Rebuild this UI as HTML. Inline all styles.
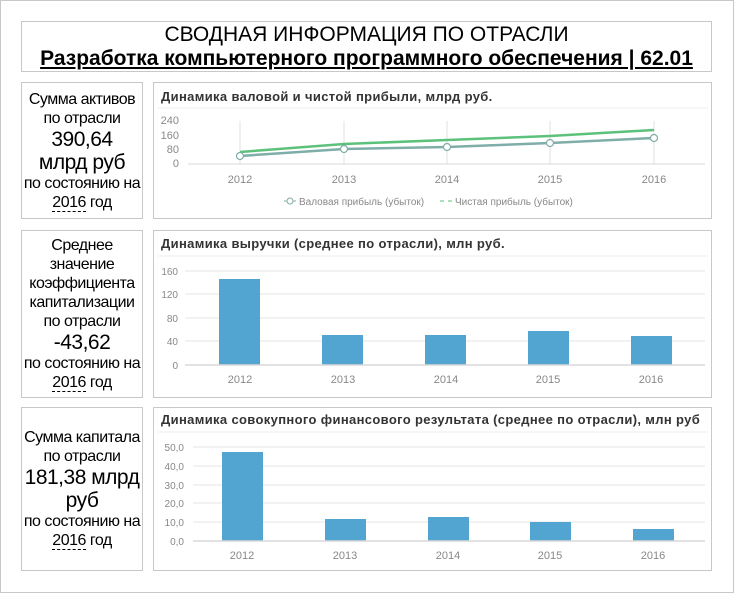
<!DOCTYPE html>
<html><head><meta charset="utf-8"><style>
body{margin:0;width:734px;height:593px;background:#fff;font-family:"Liberation Sans",sans-serif;overflow:hidden}
.frame{position:absolute;left:0;top:0;width:732px;height:591px;border:1px solid #c8c8c8}
.box{position:absolute;border:1px solid #c8c8c8;box-sizing:border-box;background:#fff}
.lt{text-align:center;color:#000;font-size:16px;line-height:19px;display:flex;flex-direction:column;justify-content:center;white-space:nowrap;letter-spacing:-0.5px}
.big{font-size:21px;line-height:23px}
.u{border-bottom:1px dashed #000}
svg text{font-family:"Liberation Sans",sans-serif}
</style></head><body>
<div class="frame"></div>
<div class="box" style="left:21px;top:21px;width:691px;height:51px;text-align:center">
<div style="font-size:21px;line-height:24px;margin-top:1px">СВОДНАЯ ИНФОРМАЦИЯ ПО ОТРАСЛИ</div>
<div style="font-size:21px;line-height:24px;font-weight:bold;text-decoration:underline">Разработка компьютерного программного обеспечения | 62.01</div>
</div>
<div class="box lt" style="left:21px;top:82px;width:122px;height:137px">
<div>Сумма активов</div><div>по отрасли</div><div class="big">390,64</div><div class="big">млрд руб</div><div>по состоянию на</div><div><span class="u">2016</span> год</div></div>
<div class="box lt" style="left:21px;top:230px;width:122px;height:168px">
<div>Среднее</div><div>значение</div><div>коэффициента</div><div>капитализации</div><div>по отрасли</div><div class="big">-43,62</div><div>по состоянию на</div><div><span class="u">2016</span> год</div></div>
<div class="box lt" style="left:21px;top:407px;width:122px;height:164px">
<div>Сумма капитала</div><div>по отрасли</div><div class="big">181,38 млрд</div><div class="big">руб</div><div>по состоянию на</div><div><span class="u">2016</span> год</div></div>

<div class="box" style="left:153px;top:82px;width:559px;height:137px"></div>
<div class="box" style="left:153px;top:230px;width:559px;height:168px"></div>
<div class="box" style="left:153px;top:407px;width:559px;height:164px"></div>

<svg style="position:absolute;left:0;top:0" width="734" height="593">
<g font-size="13" font-weight="bold" fill="#333" letter-spacing="0.35">
<text x="161" y="101">Динамика валовой и чистой прибыли, млрд руб.</text>
<text x="161" y="248">Динамика выручки (среднее по отрасли), млн руб.</text>
<text x="161" y="424">Динамика совокупного финансового результата (среднее по отрасли), млн руб</text>
</g>
<g stroke="#eee"><line x1="158" y1="108" x2="708" y2="108"/><line x1="158" y1="256" x2="708" y2="256"/><line x1="158" y1="432" x2="708" y2="432"/></g>
<!-- chart1 -->
<g stroke="#e0e0e0"><line x1="240" y1="121" x2="240" y2="164"/><line x1="344" y1="121" x2="344" y2="164"/><line x1="447" y1="121" x2="447" y2="164"/><line x1="550" y1="121" x2="550" y2="164"/><line x1="654" y1="121" x2="654" y2="164"/></g>
<line x1="188" y1="164" x2="705" y2="164" stroke="#d9d9d9"/>
<g font-size="11" fill="#888" text-anchor="end"><text x="179" y="124">240</text><text x="179" y="139">160</text><text x="179" y="153">80</text><text x="179" y="167">0</text></g>
<polyline points="240,152 344,144 447,140 550,136 654,130" fill="none" stroke="#5cc17a" stroke-width="2.5"/>
<polyline points="240,156 344,149 447,147 550,143 654,138" fill="none" stroke="#7fada8" stroke-width="2.5"/>
<g fill="#fff" stroke="#7fada8" stroke-width="1.2"><circle cx="240" cy="156" r="3.5"/><circle cx="344" cy="149" r="3.5"/><circle cx="447" cy="147" r="3.5"/><circle cx="550" cy="143" r="3.5"/><circle cx="654" cy="138" r="3.5"/></g>
<g font-size="11" fill="#888" text-anchor="middle"><text x="240" y="183">2012</text><text x="344" y="183">2013</text><text x="447" y="183">2014</text><text x="550" y="183">2015</text><text x="654" y="183">2016</text></g>
<line x1="284" y1="201" x2="296" y2="201" stroke="#7fada8"/><circle cx="290" cy="201" r="3" fill="#fff" stroke="#7fada8"/>
<text x="299" y="205" font-size="10" fill="#888">Валовая прибыль (убыток)</text>
<g stroke="#5cc17a"><line x1="440" y1="201" x2="444" y2="201"/><line x1="448" y1="201" x2="452" y2="201"/></g>
<text x="455" y="205" font-size="10" fill="#888">Чистая прибыль (убыток)</text>
<!-- chart2 -->
<g stroke="#e6e6e6"><line x1="185" y1="271" x2="705" y2="271"/><line x1="185" y1="294" x2="705" y2="294"/><line x1="185" y1="318" x2="705" y2="318"/><line x1="185" y1="341" x2="705" y2="341"/></g>
<g font-size="10" fill="#888" text-anchor="end"><text x="178" y="275">160</text><text x="178" y="298">120</text><text x="178" y="322">80</text><text x="178" y="345">40</text><text x="178" y="369">0</text></g>
<g fill="#52a5d1"><rect x="219" y="279" width="41" height="86"/><rect x="322" y="335" width="41" height="30"/><rect x="425" y="335" width="41" height="30"/><rect x="528" y="331" width="41" height="34"/><rect x="631" y="336" width="41" height="29"/></g>
<line x1="185" y1="365" x2="705" y2="365" stroke="#d9d9d9" stroke-width="1.5"/>
<g font-size="11" fill="#888" text-anchor="middle"><text x="240" y="383">2012</text><text x="343" y="383">2013</text><text x="446" y="383">2014</text><text x="548" y="383">2015</text><text x="651" y="383">2016</text></g>
<!-- chart3 -->
<g stroke="#e6e6e6"><line x1="193" y1="447" x2="705" y2="447"/><line x1="193" y1="466" x2="705" y2="466"/><line x1="193" y1="485" x2="705" y2="485"/><line x1="193" y1="503" x2="705" y2="503"/><line x1="193" y1="522" x2="705" y2="522"/></g>
<g font-size="10" fill="#888" text-anchor="end"><text x="184" y="451">50,0</text><text x="184" y="470">40,0</text><text x="184" y="489">30,0</text><text x="184" y="507">20,0</text><text x="184" y="526">10,0</text><text x="184" y="545">0,0</text></g>
<g fill="#52a5d1"><rect x="222" y="452" width="41" height="89"/><rect x="325" y="519" width="41" height="22"/><rect x="428" y="517" width="41" height="24"/><rect x="530" y="522" width="41" height="19"/><rect x="633" y="529" width="41" height="12"/></g>
<line x1="193" y1="541" x2="705" y2="541" stroke="#d9d9d9" stroke-width="1.5"/>
<g font-size="11" fill="#888" text-anchor="middle"><text x="242" y="559">2012</text><text x="345" y="559">2013</text><text x="448" y="559">2014</text><text x="550" y="559">2015</text><text x="653" y="559">2016</text></g>
</svg>
</body></html>
